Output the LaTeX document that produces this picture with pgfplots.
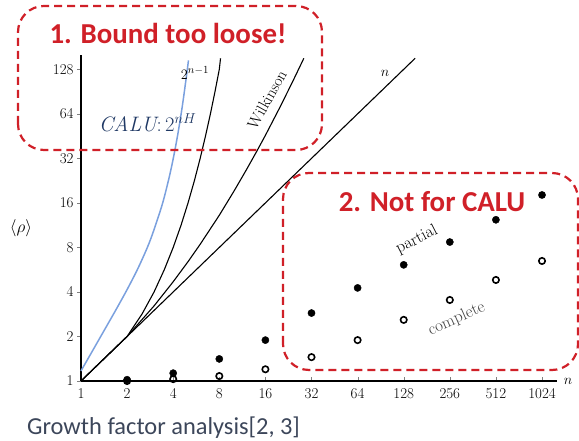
\documentclass[border=0pt]{standalone}
\usepackage{fontspec}
\usepackage{pgfplots}
\pgfplotsset{compat=1.18}
\newfontfamily\carlito{Carlito}
\definecolor{boxred}{RGB}{208,32,40}
\definecolor{calublue}{RGB}{122,160,222}
\definecolor{calutext}{RGB}{31,56,100}
\definecolor{captext}{RGB}{60,70,90}

\begin{document}
\begin{tikzpicture}[x=1bp,y=1bp]
\useasboundingbox (-81,-60) rectangle (498,381);
\begin{axis}[
  at={(0,0)}, anchor=south west,
  scale only axis,
  width=476bp, height=326bp,
  xmode=log, ymode=log,
  log basis x=2, log basis y=2,
  xmin=1, xmax=1283, ymin=1, ymax=160,
  axis x line=bottom, axis y line=left,
  axis line style={-, line width=1.1bp},
  xtick={1,2,4,8,16,32,64,128,256,512,1024},
  xticklabels={1,2,4,8,16,32,64,128,256,512,1024},
  ytick={1,2,4,8,16,32,64,128},
  yticklabels={1,2,4,8,16,32,64,128},
  minor tick num=0,
  tick align=outside,
  major tick length=4bp,
  x tick style={yshift=4bp},
  tick label style={font=\fontsize{15}{18}\selectfont},
  clip=false,
]
% 2^{n-1}
\addplot[black, line width=1.1bp] coordinates {
  (1,1)(2,2)(2.5,2.83)(3,4)(3.5,5.66)(4,8)(4.5,11.3)(5,16)(5.5,22.6)
  (6,32)(6.5,45.3)(7,64)(7.5,90.5)(8,128)(8.15,152)};
% Wilkinson
\addplot[black, line width=1.1bp] coordinates {
  (1,1)(2,2)(3,3.22)(4,4.69)(5,6.41)(6,8.4)(8,13.2)(10,19.3)(12,26.7)
  (14,35.5)(16,45.8)(20,71.6)(24,104.8)(28,146)(28.5,152)};
% n
\addplot[black, line width=1.1bp] coordinates {(1,1)(2,2)(152,152)};
% CALU
\addplot[calublue, line width=1.5bp, smooth] coordinates {
  (1,1.17)(1.189,1.60)(1.414,2.19)(1.682,3.00)(2,4.15)(2.378,5.90)
  (2.828,8.91)(3.364,15.17)(3.732,22.9)(4,31.8)(4.287,46.6)(4.595,73.0)
  (4.925,123.4)(5.03,147)};
% partial
\addplot[only marks, mark=*, mark size=3.6bp, black] coordinates {
  (2,1.02)(4,1.13)(8,1.41)(16,1.89)(32,2.88)(64,4.26)(128,6.1)
  (256,8.7)(512,12.3)(1024,18.1)};
% complete
\addplot[only marks, mark=o, mark size=3.2bp, black, line width=1.6bp] coordinates {
  (2,1.0)(4,1.03)(8,1.08)(16,1.2)(32,1.45)(64,1.89)(128,2.59)
  (256,3.53)(512,4.82)(1024,6.48)};

\node[font=\fontsize{15}{18}\selectfont] at (axis cs:5.55,121) {$2^{n-1}$};
\node[font=\fontsize{16}{19}\selectfont, rotate=61, inner sep=0pt] at (axis cs:16.4,80) {Wilkinson};
\node[font=\fontsize{15}{18}\selectfont] at (axis cs:96.6,121) {$n$};
\node[font=\fontsize{17}{20}\selectfont, rotate=27] at (axis cs:156,9.0) {partial};
\node[font=\fontsize{17}{20}\selectfont, rotate=24, text=black!75] at (axis cs:284,2.63) {complete};
\node[font=\fontsize{21}{24}\selectfont, text=calutext] at (axis cs:2.72,55.6) {$\mathit{CALU}{:}\,2^{nH}$};
\end{axis}
\node[font=\fontsize{17}{20}\selectfont] at (-60,153) {$\langle\rho\rangle$};
\node[font=\fontsize{15}{18}\selectfont] at (487,0) {$n$};

\draw[boxred, line width=2.2bp, dash pattern=on 8bp off 5bp, rounded corners=26bp]
  (-63,231) rectangle (241,375);
\draw[boxred, line width=2.2bp, dash pattern=on 8bp off 5bp, rounded corners=26bp]
  (202,11) rectangle (497,208);
\node[text=boxred, font=\carlito\bfseries\fontsize{29}{34}\selectfont] at (87,348) {1. Bound too loose!};
\node[text=boxred, font=\carlito\bfseries\fontsize{29}{34}\selectfont] at (351,179) {2. Not for CALU};
\node[anchor=base west, inner sep=0pt, text=captext, font=\carlito\fontsize{24.5}{29}\selectfont]
  at (-54,-54) {Growth factor analysis[2, 3]};
\end{tikzpicture}
\end{document}
